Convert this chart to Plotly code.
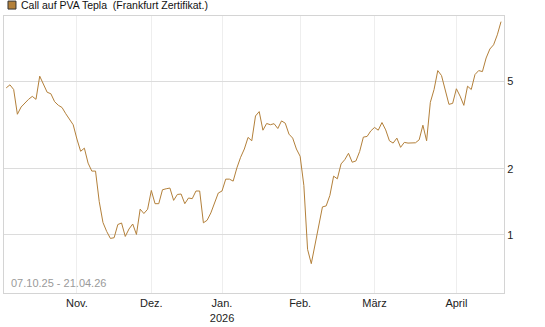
import pandas as pd
import plotly.graph_objects as go

# Trading days (Frankfurt), 07.10.25 - 21.04.26
holidays = ["2025-12-24", "2025-12-25", "2025-12-26", "2025-12-31",
            "2026-01-01", "2026-04-03", "2026-04-06"]
all_days = pd.bdate_range("2025-10-07", "2026-04-21")
dates = [d.strftime("%Y-%m-%d") for d in all_days if d.strftime("%Y-%m-%d") not in holidays]

prices = [
    4.67, 4.82, 4.59, 3.54, 3.82, 4.00, 4.14, 4.27, 4.14, 5.28,
    4.87, 4.46, 4.39, 4.04, 3.89, 3.80, 3.56, 3.34, 3.17, 2.73,
    2.40, 2.48, 2.12, 1.95, 1.95, 1.415, 1.137, 1.035, 0.962, 0.969,
    1.113, 1.131, 0.982, 1.062, 1.119, 1.003, 1.308, 1.249, 1.306, 1.591,
    1.385, 1.385, 1.603, 1.620, 1.632, 1.434, 1.526, 1.533, 1.385, 1.470,
    1.460, 1.582, 1.582, 1.133, 1.164, 1.257, 1.396, 1.549, 1.582, 1.792,
    1.792, 1.755, 2.016, 2.254, 2.458, 2.776, 2.680, 3.477, 3.640, 2.995,
    3.213, 3.172, 3.206, 3.049, 3.301, 3.223, 2.873, 2.756, 2.458, 2.278,
    1.677, 0.858, 0.738, 0.892, 1.098, 1.339, 1.353, 1.511, 1.849, 1.798,
    2.102, 2.198, 2.350, 2.140, 2.169, 2.394, 2.785, 2.805, 2.973, 3.082,
    2.995, 3.246, 3.004, 2.680, 2.616, 2.756, 2.502, 2.635, 2.616, 2.616,
    2.624, 2.708, 3.156, 2.680, 4.011, 4.59, 5.598, 5.313, 4.498, 3.928,
    3.969, 4.626, 4.281, 3.887, 4.752, 4.59, 5.370, 5.598, 5.539, 6.389,
    7.021, 7.337, 8.146, 9.355,
]

month_labels = ["Nov.", "Dez.", "Jan.<br>2026", "Feb.", "März", "April"]
month_keys = ["2025-11", "2025-12", "2026-01", "2026-02", "2026-03", "2026-04"]
month_ticks = [next(d for d in dates if d.startswith(m)) for m in month_keys]

y_ticks = [1, 2, 5]
y_labels = ["1", "2", "5"]

series_name = "Call auf PVA Tepla  (Frankfurt Zertifikat.)"
range_text = "07.10.25 - 21.04.26"

line_color = "#b3803a"
font_family = "Liberation Sans, Arial, sans-serif"

fig = go.Figure()
fig.add_trace(go.Scatter(
    x=dates, y=prices, mode="lines",
    line=dict(color=line_color, width=1),
    name=series_name, showlegend=False, hoverinfo="skip",
))

fig.update_layout(
    width=545, height=327,
    margin=dict(l=3, r=41, t=16, b=32),
    paper_bgcolor="white", plot_bgcolor="white",
    font=dict(family=font_family, size=11, color="#222222"),
    xaxis=dict(
        type="category",
        range=[-0.6, len(dates) - 0.2],
        tickmode="array", tickvals=month_ticks, ticktext=month_labels,
        showgrid=True, gridcolor="#eeeeee", gridwidth=1,
        showline=True, linecolor="#d4d4d4", linewidth=1, mirror=True,
        ticks="", zeroline=False,
        tickfont=dict(size=11, color="#222222"),
    ),
    yaxis=dict(
        type="log", side="right",
        range=[-0.2656, 0.9968],
        tickmode="array", tickvals=y_ticks, ticktext=y_labels,
        showgrid=True, gridcolor="#dcdcdc", gridwidth=1,
        showline=True, linecolor="#d4d4d4", linewidth=1, mirror=True,
        ticks="", zeroline=False,
        tickfont=dict(size=11, color="#222222"),
    ),
    shapes=[dict(
        type="rect", xref="paper", yref="paper",
        x0=4 / 501, x1=12 / 501, y0=1 + 7 / 279, y1=1 + 15 / 279,
        fillcolor=line_color, line=dict(color="#333333", width=1),
    )],
    annotations=[
        dict(text=series_name, xref="paper", yref="paper",
             x=15 / 501, y=1 + 11 / 279, xanchor="left", yanchor="middle",
             showarrow=False, font=dict(size=10.5, color="#111111")),
        dict(text=range_text, xref="paper", yref="paper",
             x=5 / 501, y=2 / 279, xanchor="left", yanchor="bottom",
             showarrow=False, font=dict(size=11, color="#9a9a9a")),
    ],
)

fig.write_html("out.html")
